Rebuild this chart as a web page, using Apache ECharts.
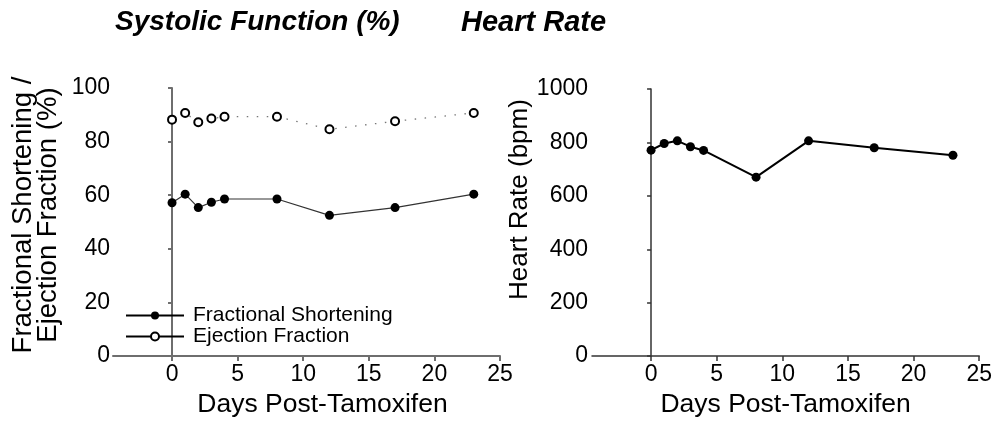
<!DOCTYPE html>
<html>
<head>
<meta charset="utf-8">
<script src="https://cdn.jsdelivr.net/npm/echarts@6/dist/echarts.min.js"></script>
<style>
  html, body { margin: 0; padding: 0; background: #fff; }
  #chart { width: 995px; height: 423px; }
</style>
</head>
<body>
<div id="chart"></div>
<script>
// Days after tamoxifen at which echo measurements were taken
const days = [0, 1, 2, 3, 4, 8, 12, 17, 23];
// Systolic function (%)
const fractionalShortening = [57.2, 60.4, 55.4, 57.4, 58.6, 58.6, 52.5, 55.4, 60.4];
const ejectionFraction = [88.2, 90.7, 87.2, 88.6, 89.3, 89.3, 84.6, 87.6, 90.7];
// Heart rate (bpm)
const heartRate = [771, 796, 806, 784, 770, 670, 806, 780, 752];
// Tick labels
const dayTicks = [0, 5, 10, 15, 20, 25];

const FONT = '"Liberation Sans", Arial, Helvetica, sans-serif';

function pairs(xs, ys) {
  return xs.map((x, i) => [x, ys[i]]);
}

function plain(v) {
  return String(v);
}

function xAxisFor(gridIndex, axisColor, axisWidth, nameShift) {
  return {
    type: 'value',
    gridIndex: gridIndex,
    min: -4.5,
    max: 25,
    name: 'Days Post-Tamoxifen',
    nameLocation: 'middle',
    nameGap: 30,
    nameTextStyle: {
      fontFamily: FONT, fontSize: 26.5, color: '#000',
      padding: [0, 0, 0, nameShift]
    },
    axisLine: { show: true, lineStyle: { color: axisColor, width: axisWidth } },
    axisTick: {
      show: true, inside: false, length: 5,
      customValues: dayTicks,
      lineStyle: { color: axisColor, width: axisWidth }
    },
    axisLabel: {
      customValues: dayTicks,
      formatter: plain,
      fontFamily: FONT, fontSize: 23, color: '#000', margin: 7
    },
    splitLine: { show: false }
  };
}

const option = {
  backgroundColor: '#fff',
  animation: false,
  title: [
    {
      text: 'Systolic Function (%)',
      left: 115, top: 8, padding: 0,
      textStyle: { fontFamily: FONT, fontSize: 28, fontWeight: 'bold', fontStyle: 'italic', color: '#000' }
    },
    {
      text: 'Heart Rate',
      left: 461, top: 8, padding: 0,
      textStyle: { fontFamily: FONT, fontSize: 29, fontWeight: 'bold', fontStyle: 'italic', color: '#000' }
    }
  ],
  legend: {
    show: true,
    orient: 'vertical',
    left: 125,
    top: 305,
    padding: 0,
    itemGap: 0,
    itemWidth: 58,
    itemHeight: 10,
    data: ['Fractional Shortening', 'Ejection Fraction'],
    lineStyle: { color: '#000', width: 2, type: 'solid' },
    textStyle: { fontFamily: FONT, fontSize: 21, lineHeight: 20, color: '#000', padding: [0, 0, 0, 4] }
  },
  grid: [
    { left: 113, right: 495, top: 88, bottom: 63 },
    { left: 592, right: 14, top: 89, bottom: 62 }
  ],
  xAxis: [
    xAxisFor(0, '#6e6e6e', 2, 32),
    xAxisFor(1, '#333', 1.5, 0)
  ],
  yAxis: [
    {
      type: 'value', gridIndex: 0, min: 0, max: 100, interval: 20,
      name: 'Fractional Shortening /\nEjection Fraction (%)',
      nameLocation: 'middle',
      nameGap: 52,
      nameTextStyle: { fontFamily: FONT, fontSize: 27.5, lineHeight: 25, color: '#000', padding: [0, 0, 0, 14] },
      axisLine: { show: true, lineStyle: { color: '#6e6e6e', width: 2 } },
      axisTick: { show: true, inside: false, length: 4, lineStyle: { color: '#6e6e6e', width: 2 } },
      axisLabel: { formatter: plain, fontFamily: FONT, fontSize: 23, color: '#000', margin: 3 },
      splitLine: { show: false }
    },
    {
      type: 'value', gridIndex: 1, min: 0, max: 1000, interval: 200,
      name: 'Heart Rate (bpm)',
      nameLocation: 'middle',
      nameGap: 42,
      nameTextStyle: { fontFamily: FONT, fontSize: 26, color: '#000', padding: [0, 0, 0, 46] },
      axisLine: { show: true, lineStyle: { color: '#333', width: 1.5 } },
      axisTick: { show: true, inside: false, length: 4, lineStyle: { color: '#333', width: 1.5 } },
      axisLabel: { formatter: plain, fontFamily: FONT, fontSize: 23, color: '#000', margin: 4 },
      splitLine: { show: false }
    }
  ],
  series: [
    {
      name: 'Fractional Shortening',
      type: 'line',
      xAxisIndex: 0, yAxisIndex: 0,
      data: pairs(days, fractionalShortening),
      symbol: 'circle',
      symbolSize: 9,
      itemStyle: { color: '#000' },
      lineStyle: { color: '#333', width: 1.2 },
      z: 3
    },
    {
      name: 'Ejection Fraction',
      type: 'line',
      xAxisIndex: 0, yAxisIndex: 0,
      data: pairs(days, ejectionFraction),
      symbol: 'circle',
      symbolSize: 8,
      itemStyle: { color: '#fff', borderColor: '#000', borderWidth: 2 },
      lineStyle: { color: '#777', width: 1.3, type: [1.5, 8.5] },
      z: 3
    },
    {
      name: 'Heart Rate',
      type: 'line',
      xAxisIndex: 1, yAxisIndex: 1,
      data: pairs(days, heartRate),
      symbol: 'circle',
      symbolSize: 9,
      itemStyle: { color: '#000' },
      lineStyle: { color: '#000', width: 2 },
      z: 3
    }
  ]
};

const chart = echarts.init(document.getElementById('chart'), null, { renderer: 'canvas' });
chart.setOption(option);
</script>
</body>
</html>
